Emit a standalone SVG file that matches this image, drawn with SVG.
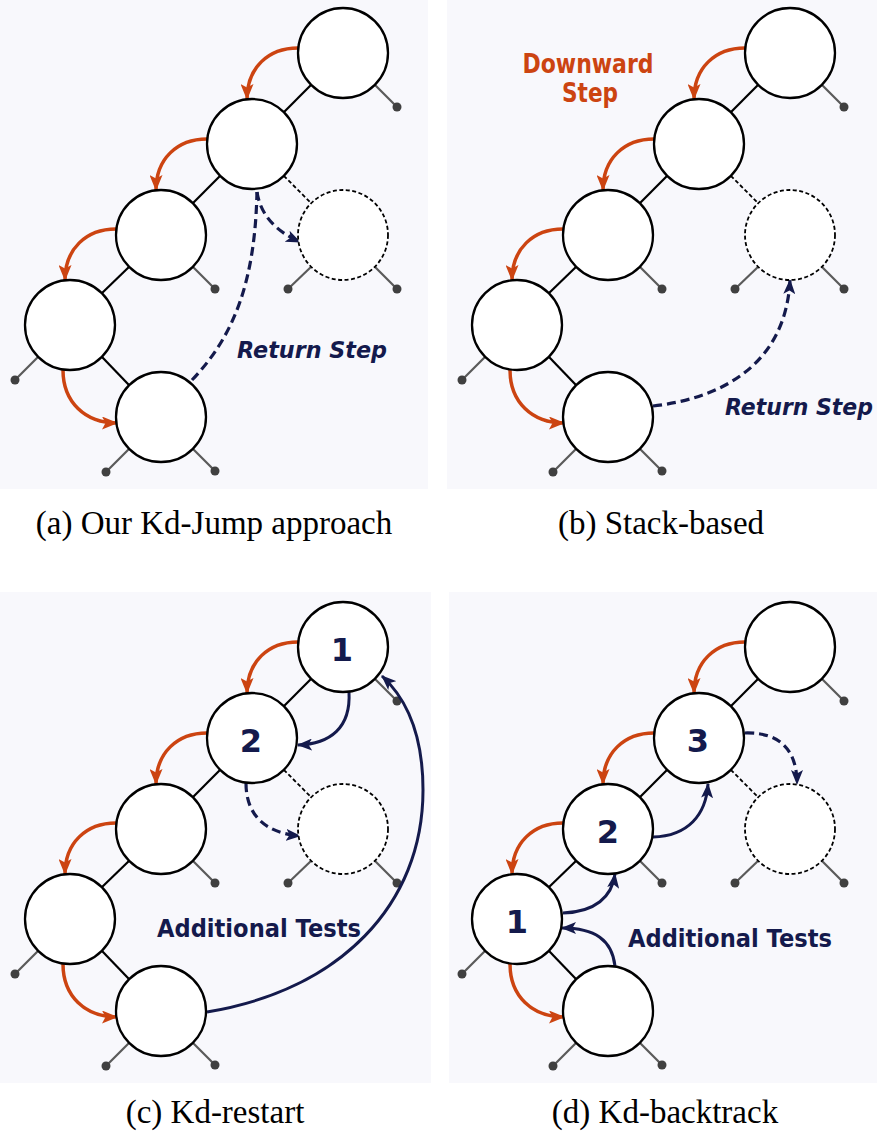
<svg xmlns="http://www.w3.org/2000/svg" width="882" height="1141" viewBox="0 0 882 1141">
<style>
.bg{fill:#f8f8fc}
.nd{fill:#ffffff;stroke:#000;stroke-width:2.3}
.nd-d{fill:#ffffff;stroke:#000;stroke-width:1.8;stroke-dasharray:4,2.5}
.ed{stroke:#000;stroke-width:2.2;fill:none}
.ed-d{stroke:#000;stroke-width:1.8;fill:none;stroke-dasharray:4,2.5}
.stub{stroke:#5a5a5a;stroke-width:2.2;fill:none}
.dot{fill:#404040}
.og{stroke:#cc4411;stroke-width:3.5;fill:none;marker-end:url(#ao)}
.nv{stroke:#141a4c;stroke-width:3;fill:none;marker-end:url(#an)}
.nvd{stroke:#141a4c;stroke-width:3.2;fill:none;stroke-dasharray:9,5}
.nvda{stroke:#141a4c;stroke-width:3.2;fill:none;stroke-dasharray:9,5;marker-end:url(#an)}
.lbl{font-family:"DejaVu Sans","Liberation Sans",sans-serif;font-weight:bold}
.ret{font-family:"DejaVu Sans","Liberation Sans",sans-serif;font-weight:bold;font-style:italic;font-size:23px;fill:#141a4c}
.num{font-family:"DejaVu Sans","Liberation Sans",sans-serif;font-weight:bold;font-size:32px;fill:#141a4c;text-anchor:middle}
.cap{font-family:"Liberation Serif","Times New Roman",serif;font-size:33px;fill:#000;text-anchor:middle}
</style>
<defs>
<marker id="ao" viewBox="0 0 16 13" refX="15" refY="6.5" markerWidth="16" markerHeight="13" markerUnits="userSpaceOnUse" orient="auto"><path d="M0,0 L16,6.5 L0,13 L3.5,6.5 z" fill="#cc4411"/></marker>
<marker id="an" viewBox="0 0 15 12" refX="14" refY="6" markerWidth="15" markerHeight="12" markerUnits="userSpaceOnUse" orient="auto"><path d="M0,0 L15,6 L0,12 L3.5,6 z" fill="#141a4c"/></marker>
<g id="tree-edges">
<line class="ed" x1="311.2" y1="84.8" x2="283.8" y2="112.2"/>
<line class="ed" x1="220.2" y1="175.8" x2="192.8" y2="203.2"/>
<line class="ed-d" x1="283.8" y1="175.8" x2="311.2" y2="203.2"/>
<line class="ed" x1="129.2" y1="266.8" x2="101.8" y2="293.2"/>
<line class="ed" x1="101.8" y1="356.8" x2="129.2" y2="385.2"/>
<line class="stub" x1="374.8" y1="84.8" x2="397" y2="107"/>
<line class="stub" x1="192.8" y1="266.8" x2="215" y2="289"/>
<line class="stub" x1="38.2" y1="356.8" x2="15" y2="380"/>
<line class="stub" x1="129.2" y1="448.8" x2="106" y2="472"/>
<line class="stub" x1="192.8" y1="448.8" x2="215" y2="471"/>
<line class="stub" x1="311.2" y1="266.8" x2="288" y2="289"/>
<line class="stub" x1="374.8" y1="266.8" x2="397" y2="289"/>
<circle class="dot" cx="397" cy="107" r="4.5"/>
<circle class="dot" cx="215" cy="289" r="4.5"/>
<circle class="dot" cx="15" cy="380" r="4.5"/>
<circle class="dot" cx="106" cy="472" r="4.5"/>
<circle class="dot" cx="215" cy="471" r="4.5"/>
<circle class="dot" cx="288" cy="289" r="4.5"/>
<circle class="dot" cx="397" cy="289" r="4.5"/>
<path class="og" d="M298,48 C268,48 247,68 247,99"/>
<path class="og" d="M207,139 C177,139 156,159 156,190"/>
<path class="og" d="M116,229 C86,229 65,249 65,280"/>
<path class="og" d="M63,370 C63,402 85,423 117,423"/>
</g>
</defs>

<rect class="bg" x="0" y="0" width="428" height="489"/>
<rect class="bg" x="447" y="0" width="430" height="489"/>
<rect class="bg" x="0" y="592" width="431" height="491"/>
<rect class="bg" x="449" y="592" width="428" height="491"/>

<!-- Panel (a) -->
<g id="panel-a">
<g id="a-connectors"><use href="#tree-edges"/>
<path class="nvda" d="M257,192 Q262,225 300,242"/>
<path class="nvd" d="M192,380 C235,335 255,280 257,192"/>
</g>
<g id="a-n1"><circle class="nd" cx="343" cy="53" r="45"/></g>
<g id="a-n2"><circle class="nd" cx="252" cy="144" r="45"/></g>
<g id="a-n3"><circle class="nd" cx="161" cy="235" r="45"/></g>
<g id="a-n4"><circle class="nd" cx="70" cy="325" r="45"/></g>
<g id="a-n5"><circle class="nd" cx="161" cy="417" r="45"/></g>
<g id="a-nd"><circle class="nd-d" cx="343" cy="235" r="45"/></g>
<text class="ret" x="237" y="358" textLength="150" lengthAdjust="spacingAndGlyphs">Return Step</text>
<text class="cap" x="214" y="534">(a) Our Kd-Jump approach</text>
</g>

<!-- Panel (b) -->
<g id="panel-b">
<g id="b-connectors" transform="translate(447,0)"><use href="#tree-edges"/></g>
<g id="b-connectors-ret"><path class="nvda" d="M653,406 C725,398 786,362 790,280"/></g>
<g id="b-n1"><circle class="nd" cx="790" cy="53" r="45"/></g>
<g id="b-n2"><circle class="nd" cx="699" cy="144" r="45"/></g>
<g id="b-n3"><circle class="nd" cx="608" cy="235" r="45"/></g>
<g id="b-n4"><circle class="nd" cx="517" cy="325" r="45"/></g>
<g id="b-n5"><circle class="nd" cx="608" cy="417" r="45"/></g>
<g id="b-nd"><circle class="nd-d" cx="790" cy="235" r="45"/></g>
<text class="lbl" x="588" y="73" font-size="26" fill="#cc4411" text-anchor="middle" textLength="131" lengthAdjust="spacingAndGlyphs">Downward</text>
<text class="lbl" x="590" y="102" font-size="26" fill="#cc4411" text-anchor="middle" textLength="56" lengthAdjust="spacingAndGlyphs">Step</text>
<text class="ret" x="725" y="415" textLength="148" lengthAdjust="spacingAndGlyphs">Return Step</text>
<text class="cap" x="661" y="534">(b) Stack-based</text>
</g>

<!-- Panel (c) -->
<g id="panel-c">
<g id="c-connectors"><g transform="translate(0,594)"><use href="#tree-edges"/></g>
<path class="nv" d="M349,692 C351,728 330,744 298,745"/>
<path class="nvda" d="M246,783 C246,815 265,833 300,836"/>
<path class="nv" d="M207,1012 C340,990 423,905 423,790 C423,735 408,700 382,676"/>
</g>
<g id="c-n1"><circle class="nd" cx="343" cy="647" r="45"/><text class="num" x="342" y="661">1</text></g>
<g id="c-n2"><circle class="nd" cx="252" cy="738" r="45"/><text class="num" x="251" y="752">2</text></g>
<g id="c-n3"><circle class="nd" cx="161" cy="829" r="45"/></g>
<g id="c-n4"><circle class="nd" cx="70" cy="919" r="45"/></g>
<g id="c-n5"><circle class="nd" cx="161" cy="1011" r="45"/></g>
<g id="c-nd"><circle class="nd-d" cx="343" cy="829" r="45"/></g>
<text class="lbl" x="157" y="937" font-size="25" fill="#141a4c" textLength="204" lengthAdjust="spacingAndGlyphs">Additional Tests</text>
<text class="cap" x="215" y="1123">(c) Kd-restart</text>
</g>

<!-- Panel (d) -->
<g id="panel-d">
<g id="d-connectors"><g transform="translate(447,594)"><use href="#tree-edges"/></g>
<path class="nvda" d="M745,733 C782,732 797,752 797,784"/>
<path class="nv" d="M563,913 C595,912 612,897 615,874"/>
<path class="nv" d="M653,837 C688,836 706,815 708,784"/>
<path class="nv" d="M615,966 C612,940 595,928 562,928"/>
</g>
<g id="d-n1"><circle class="nd" cx="790" cy="647" r="45"/></g>
<g id="d-n2"><circle class="nd" cx="699" cy="738" r="45"/><text class="num" x="698" y="752">3</text></g>
<g id="d-n3"><circle class="nd" cx="608" cy="829" r="45"/><text class="num" x="608" y="843">2</text></g>
<g id="d-n4"><circle class="nd" cx="517" cy="919" r="45"/><text class="num" x="517" y="933">1</text></g>
<g id="d-n5"><circle class="nd" cx="608" cy="1011" r="45"/></g>
<g id="d-nd"><circle class="nd-d" cx="790" cy="829" r="45"/></g>
<text class="lbl" x="628" y="947" font-size="25" fill="#141a4c" textLength="204" lengthAdjust="spacingAndGlyphs">Additional Tests</text>
<text class="cap" x="665" y="1123">(d) Kd-backtrack</text>
</g>
</svg>
